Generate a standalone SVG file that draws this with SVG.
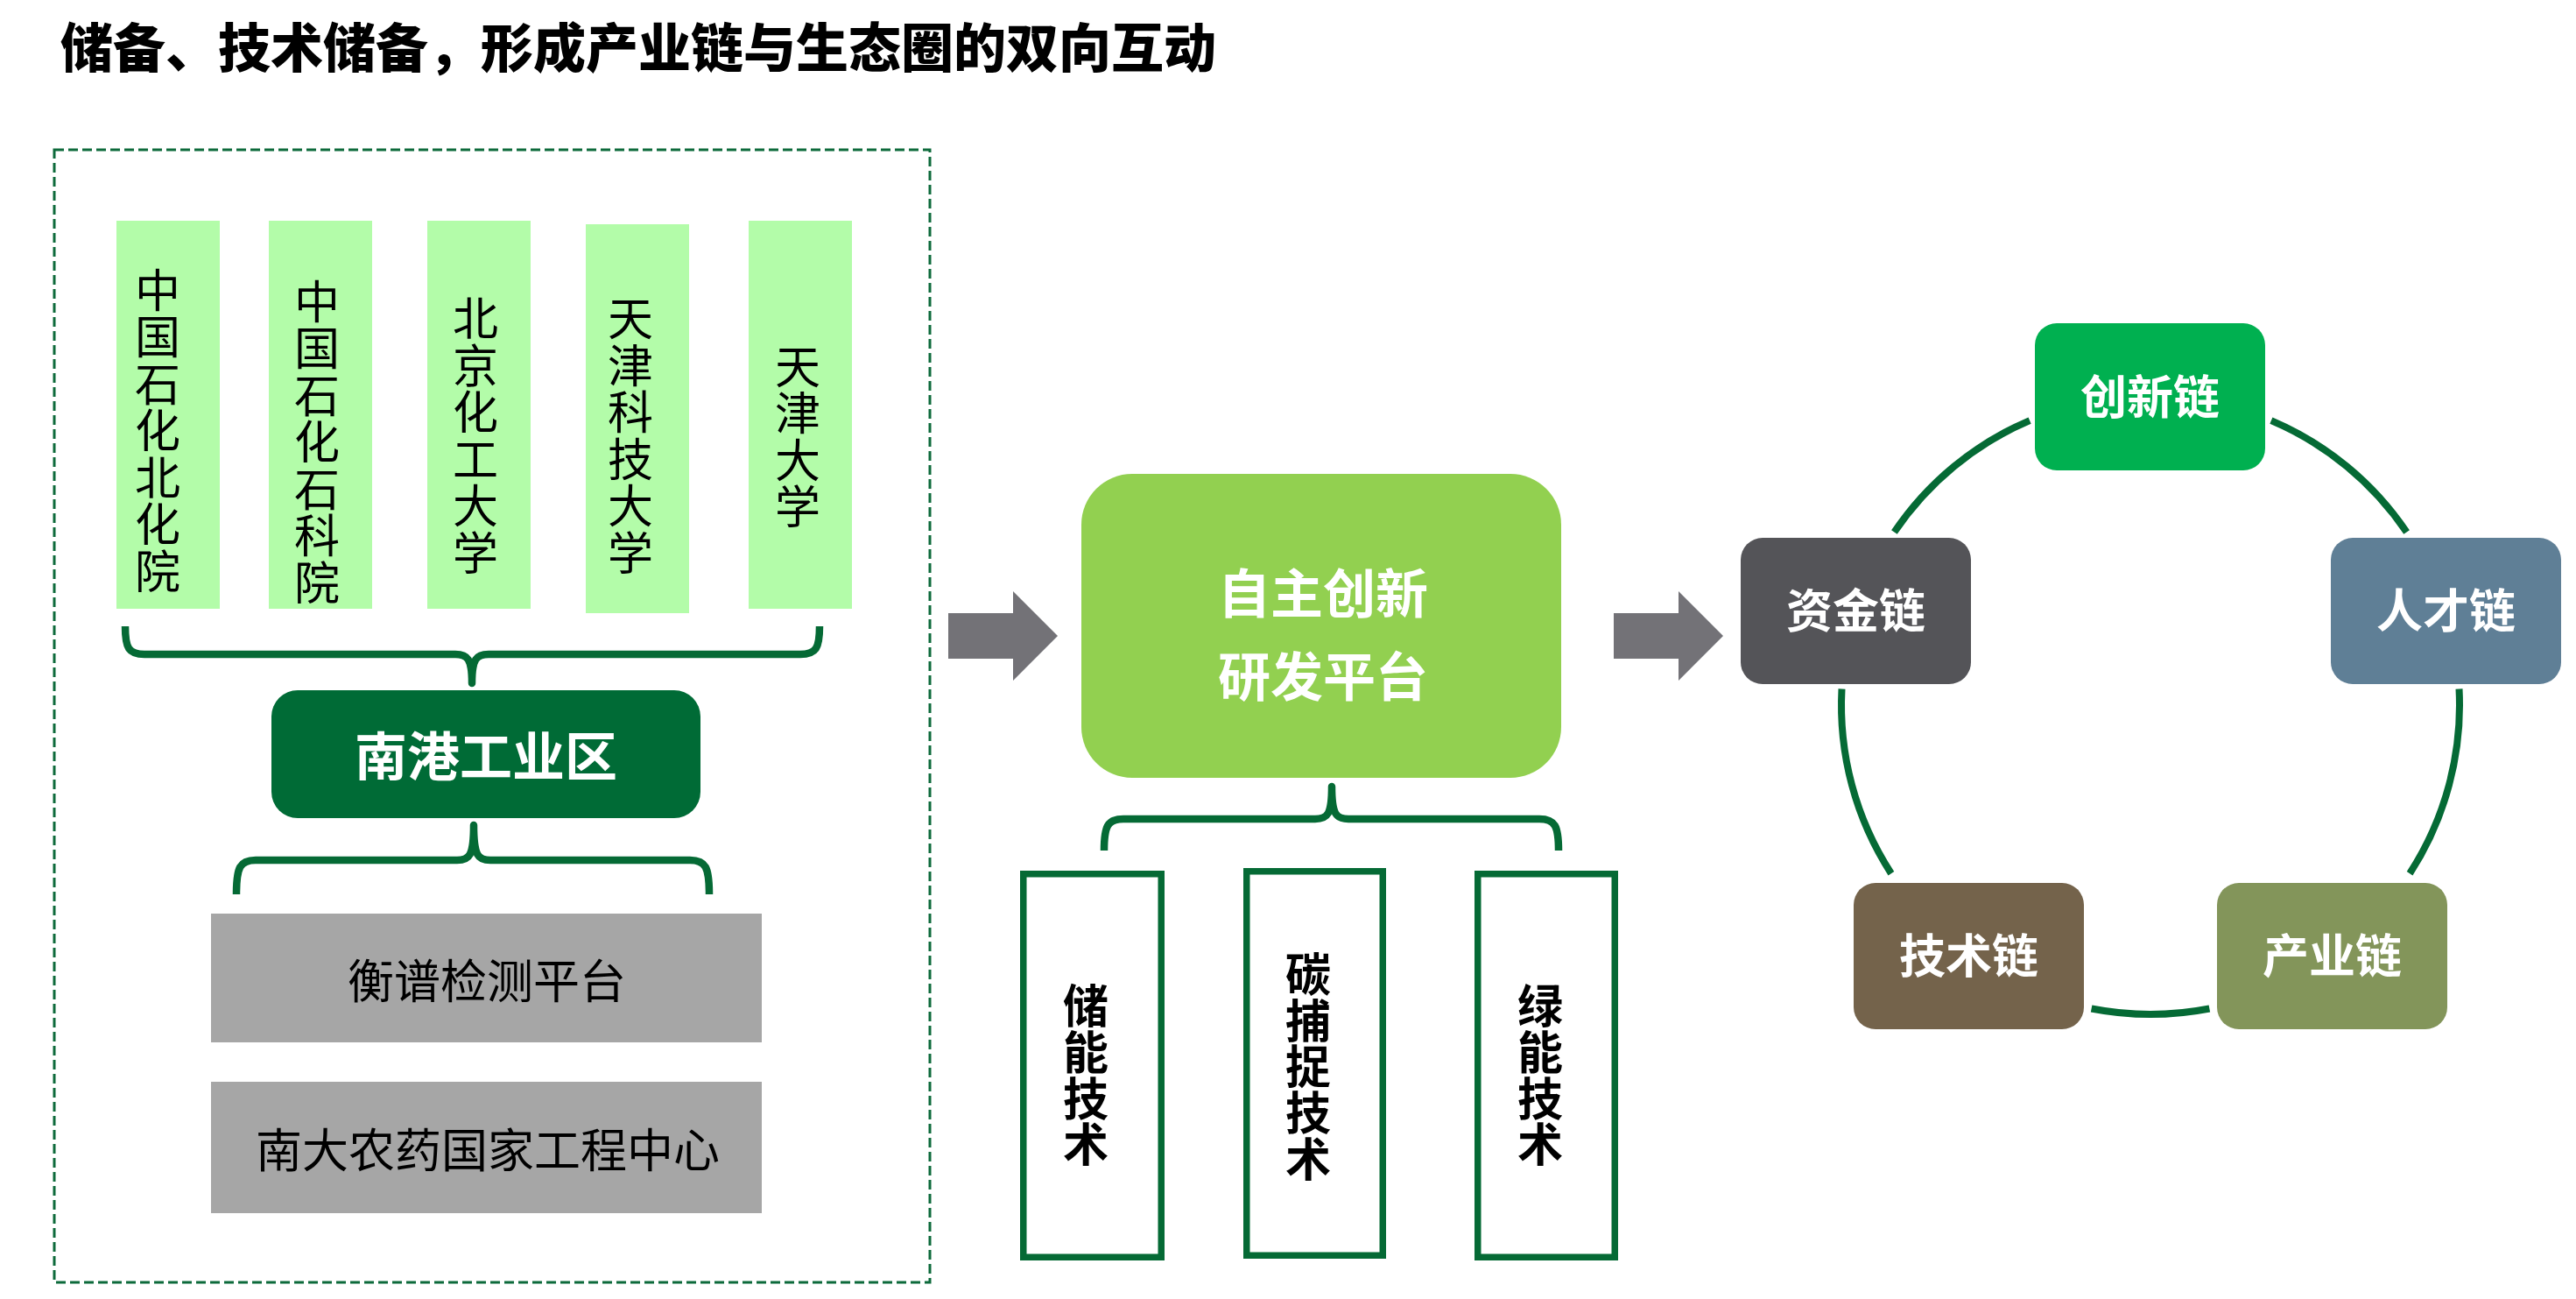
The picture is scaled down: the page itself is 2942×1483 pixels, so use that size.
<svg xmlns="http://www.w3.org/2000/svg" width="2942" height="1483" viewBox="0 0 2942 1483">
<style>
text{font-family:"Noto Sans CJK SC","Noto Sans",sans-serif;}
.title{font-size:60px;font-weight:900;fill:#000;}
.bar{fill:#B3FCA9;}
.vt{font-size:52px;fill:#000;writing-mode:vertical-rl;letter-spacing:1.5px;text-anchor:middle;}
.vtb{font-size:52px;font-weight:700;fill:#000;writing-mode:vertical-rl;letter-spacing:0.7px;text-anchor:middle;}
.wt{fill:#fff;font-weight:700;text-anchor:middle;dominant-baseline:central;}
.bt{fill:#000;font-size:53px;text-anchor:middle;dominant-baseline:central;}
.gray{fill:#A6A6A6;}
.obox{fill:#fff;stroke:#056A35;stroke-width:7.5;}
.brace{fill:none;stroke:#056A35;stroke-width:8.5;stroke-linejoin:round;}
.ring{fill:none;stroke:#056A35;stroke-width:8;}
.arrow{fill:#737277;}
</style>

<text class="title" x="69" y="50" dominant-baseline="central">储备、技术储备，形成产业链与生态圈的双向互动</text>

<rect x="62" y="171" width="1000" height="1293" fill="none" stroke="#0D6A3B" stroke-width="3" stroke-dasharray="11 5"/>

<g id="n-zhshbhy"><rect class="bar" x="133" y="252" width="118" height="443"/><text class="vt" x="180" y="492">中国石化北化院</text></g>
<g id="n-zhshskyy"><rect class="bar" x="307" y="252" width="118" height="443"/><text class="vt" x="362" y="505">中国石化石科院</text></g>
<g id="n-bjhgdx"><rect class="bar" x="488" y="252" width="118" height="443"/><text class="vt" x="543" y="498">北京化工大学</text></g>
<g id="n-tjkjdx"><rect class="bar" x="669" y="256" width="118" height="444"/><text class="vt" x="720" y="498">天津科技大学</text></g>
<g id="n-tjdx"><rect class="bar" x="855" y="252" width="118" height="443"/><text class="vt" x="911" y="499">天津大学</text></g>

<g id="n-ngqy"><rect x="310" y="788" width="490" height="146" rx="30" fill="#006B36"/><text class="wt" x="555" y="859" font-size="60">南港工业区</text></g>

<g id="n-hpjc"><rect class="gray" x="241" y="1043" width="629" height="147"/><text class="bt" x="556" y="1117">衡谱检测平台</text></g>
<g id="n-ndny"><rect class="gray" x="241" y="1235" width="629" height="150"/><text class="bt" x="557" y="1310">南大农药国家工程中心</text></g>

<g id="n-zzcx"><rect x="1235" y="541" width="548" height="347" rx="58" fill="#92D050"/><text class="wt" x="1511" y="673" font-size="60">自主创新</text><text class="wt" x="1511" y="768" font-size="60">研发平台</text></g>

<g id="n-cnjs"><rect class="obox" x="1168.75" y="997.75" width="157.5" height="437.5"/><text class="vtb" x="1240" y="1228">储能技术</text></g>
<g id="n-tbzjs"><rect class="obox" x="1423.75" y="994.75" width="155.5" height="438.5"/><text class="vtb" x="1494" y="1218">碳捕捉技术</text></g>
<g id="n-lnjs"><rect class="obox" x="1687.75" y="997.75" width="156.5" height="437.5"/><text class="vtb" x="1759" y="1228">绿能技术</text></g>

<g id="n-cxl"><rect x="2324" y="369" width="263" height="168" rx="25" fill="#00B050"/><text class="wt" x="2455.5" y="450" font-size="53">创新链</text></g>
<g id="n-zjl"><rect x="1988" y="614" width="263" height="167" rx="25" fill="#545458"/><text class="wt" x="2119.5" y="694" font-size="53">资金链</text></g>
<g id="n-rcl"><rect x="2662" y="614" width="263" height="167" rx="25" fill="#5F7F96"/><text class="wt" x="2793.5" y="694" font-size="53">人才链</text></g>
<g id="n-jsl"><rect x="2117" y="1008" width="263" height="167" rx="25" fill="#74634B"/><text class="wt" x="2248.5" y="1088" font-size="53">技术链</text></g>
<g id="n-cyl"><rect x="2532" y="1008" width="263" height="167" rx="25" fill="#83955A"/><text class="wt" x="2663.5" y="1088" font-size="53">产业链</text></g>

<g id="connectors">
<path class="brace" d="M143,715 C143,740 147,747 165,747 L520,747 C534,747 539,752 539,780 C539,752 544,747 558,747 L914,747 C932,747 936,740 936,715"/>
<path class="brace" d="M270,1021 C270,990 274,982 292,982 L522,982 C536,982 541,977 541,942 C541,977 546,982 560,982 L788,982 C806,982 810,990 810,1021"/>
<path class="brace" d="M1261,971 C1261,943 1265,935 1283,935 L1502,935 C1516,935 1521,930 1521,898 C1521,930 1526,935 1540,935 L1758,935 C1776,935 1780,943 1780,971"/>
<path class="arrow" d="M1083,700 L1157,700 L1157,675 L1208,726 L1157,777 L1157,752 L1083,752 Z"/>
<path class="arrow" d="M1843,700 L1917,700 L1917,675 L1968,726 L1917,777 L1917,752 L1843,752 Z"/>
<path class="ring" d="M2163.4,607.6 A353,353 0 0 1 2318.1,480.1"/>
<path class="ring" d="M2593.9,480.1 A353,353 0 0 1 2748.6,607.6"/>
<path class="ring" d="M2808.5,786.5 A353,353 0 0 1 2752.1,997.2"/>
<path class="ring" d="M2523.4,1151.5 A353,353 0 0 1 2388.6,1151.5"/>
<path class="ring" d="M2159.9,997.2 A353,353 0 0 1 2103.5,786.5"/>
</g>
</svg>
